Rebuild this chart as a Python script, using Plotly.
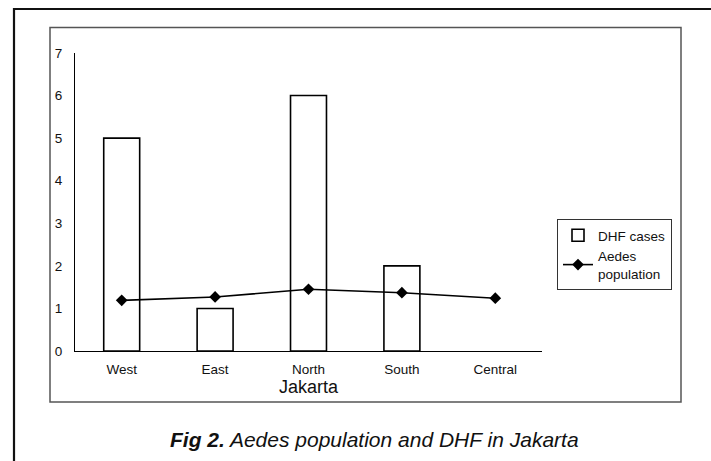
import plotly.graph_objects as go

regions = ["West", "East", "North", "South", "Central"]
dhf_cases = [5, 1, 6, 2, 0]
aedes_population = [1.19, 1.27, 1.45, 1.37, 1.24]
y_ticks = [0, 1, 2, 3, 4, 5, 6, 7]

W, H = 711, 461
L, R, T, B = 75, 169, 53, 110
PW, PH = W - L - R, H - T - B


def px(x):
    return (x - L) / PW


def py(y):
    return (H - B - y) / PH


FONT = "Liberation Sans, Arial, sans-serif"

fig = go.Figure()
fig.add_trace(go.Bar(
    x=regions, y=dhf_cases, name="DHF cases",
    marker=dict(color="white",
                line=dict(color="black",
                          width=[1.6 if v else 0 for v in dhf_cases])),
))
fig.add_trace(go.Scatter(
    x=regions, y=aedes_population, name="Aedes<br>population",
    mode="lines+markers",
    line=dict(color="black", width=1.6),
    marker=dict(symbol="diamond", size=9, color="black"),
))

fig.update_layout(
    width=W, height=H,
    margin=dict(l=L, r=R, t=T, b=B),
    paper_bgcolor="white", plot_bgcolor="white",
    font=dict(family=FONT, color="#111", size=13.5),
    bargap=0.615,
    showlegend=True,
    legend=dict(
        x=px(557), y=py(219), xanchor="left", yanchor="top",
        bordercolor="#333", borderwidth=1, bgcolor="white",
        font=dict(size=13.5, family=FONT), tracegroupgap=4,
    ),
    xaxis=dict(
        showline=True, linecolor="black", linewidth=1.2,
        showgrid=False, zeroline=False, ticks="",
        ticklabelstandoff=6,
        tickfont=dict(size=13.5),
        title=dict(text="Jakarta", font=dict(size=18), standoff=2),
    ),
    yaxis=dict(
        range=[0, 7], tickvals=y_ticks,
        showline=True, linecolor="black", linewidth=1.2,
        showgrid=False, zeroline=False, ticks="",
        ticklabelstandoff=9,
        tickfont=dict(size=13.5),
    ),
    shapes=[
        dict(type="rect", xref="paper", yref="paper",
             x0=px(14), x1=px(720), y0=py(9), y1=py(470),
             line=dict(color="#111", width=2.2), layer="below"),
        dict(type="rect", xref="paper", yref="paper",
             x0=px(50), x1=px(681), y0=py(27.5), y1=py(402),
             line=dict(color="#555", width=1.5), layer="below"),
    ],
    annotations=[
        dict(xref="paper", yref="paper", x=px(374), y=py(439),
             xanchor="center", yanchor="middle", showarrow=False,
             text="<b><i>Fig 2.</i></b><i> Aedes population and DHF in Jakarta</i>",
             font=dict(size=21, family=FONT, color="#111")),
    ],
)

fig.write_html("out.html")
